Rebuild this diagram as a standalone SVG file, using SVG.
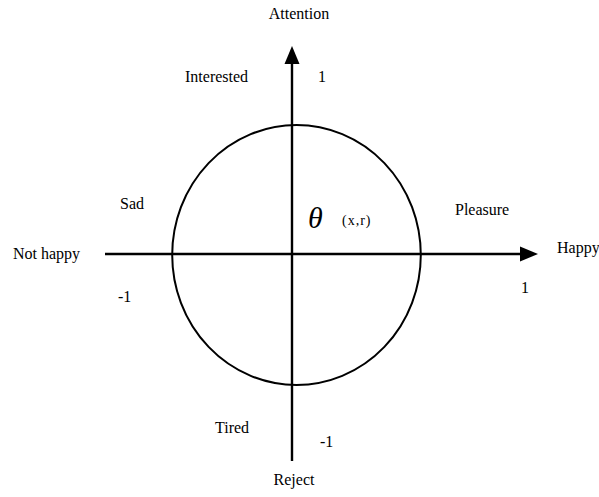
<svg xmlns="http://www.w3.org/2000/svg" width="599" height="497" viewBox="0 0 599 497">
<defs>
<style>
text{font-family:"Liberation Serif","Times New Roman",serif;font-size:16px;fill:#000}
.ax{stroke:#000;stroke-width:2.4;fill:none}
</style>
</defs>
<rect width="599" height="497" fill="#fff"/>
<g id="connectors">
<line class="ax" x1="105" y1="254" x2="522" y2="254"/>
<path d="M520,246.5 L538,254 L520,261.5 z" fill="#000"/>
<line class="ax" x1="292" y1="461" x2="292" y2="62"/>
<path d="M284.5,64 L292,46 L299.5,64 z" fill="#000"/>
</g>
<g id="circle">
<ellipse cx="296.5" cy="255" rx="124.3" ry="130" fill="none" stroke="#000" stroke-width="2"/>
</g>
<g id="labels" font-family="Liberation Serif, Times New Roman, serif">
<text x="299" y="19" text-anchor="middle">Attention</text>
<text x="185" y="82">Interested</text>
<text x="318" y="82">1</text>
<text x="120" y="209">Sad</text>
<text x="455" y="215">Pleasure</text>
<text x="308" y="228" style="font-size:30px;font-style:italic">θ</text>
<text x="342" y="225" style="font-size:14px;letter-spacing:1px">(x,r)</text>
<text x="13" y="259">Not happy</text>
<text x="557" y="253">Happy</text>
<text x="118" y="302">-1</text>
<text x="521" y="293">1</text>
<text x="215" y="433">Tired</text>
<text x="320" y="447">-1</text>
<text x="294" y="485" text-anchor="middle">Reject</text>
</g>
</svg>
